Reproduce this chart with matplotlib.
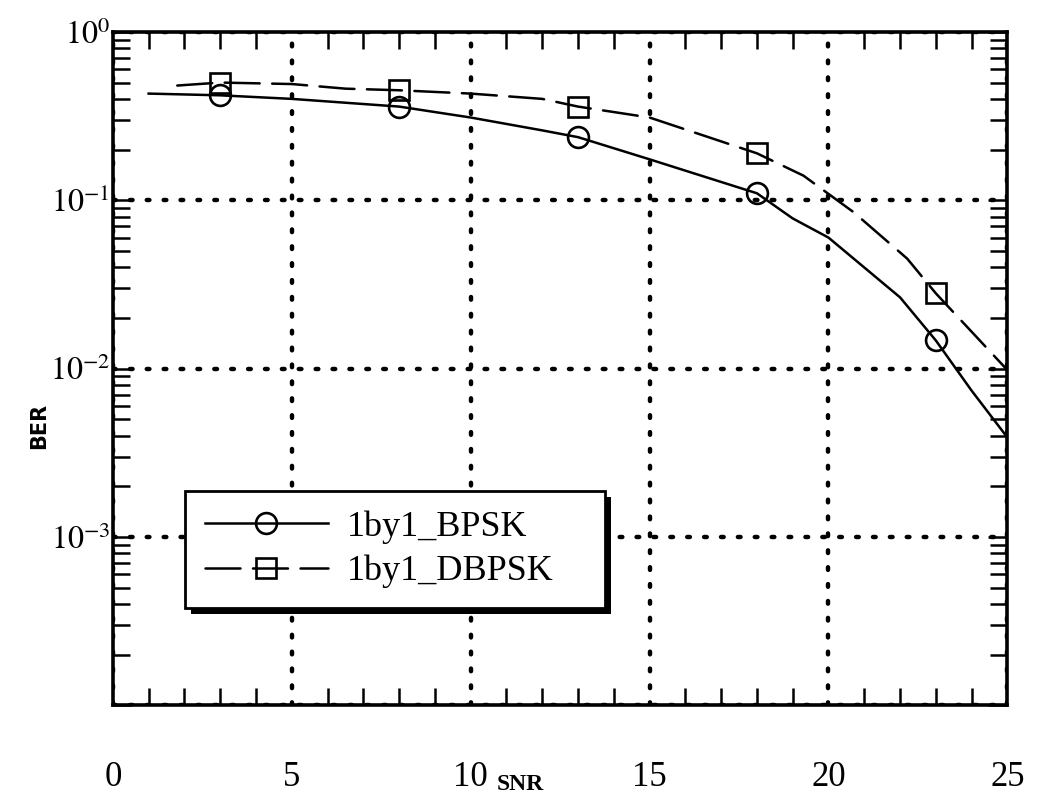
import matplotlib
matplotlib.use("Agg")
import matplotlib.pyplot as plt
from matplotlib.patches import Rectangle
from matplotlib.ticker import FixedLocator, LogLocator, NullFormatter

plt.rcParams['font.family'] = ['Liberation Serif', 'DejaVu Serif']
plt.rcParams['mathtext.fontset'] = 'stix'
plt.rcParams['lines.dash_capstyle'] = 'round'

# data
bpsk_x = [1, 3, 5, 8, 10, 12, 13, 15, 18, 19, 20, 22, 23, 24, 25]
bpsk_y = [0.43, 0.42, 0.40, 0.36, 0.31, 0.26, 0.237, 0.175, 0.11, 0.078, 0.060, 0.0265, 0.0147, 0.0074, 0.0039]
bpsk_marks = [1, 3, 6, 8, 12]

dbpsk_x = [1.8, 3, 5, 6.5, 8, 10, 12, 13, 15, 18, 19.3, 20.7, 22.2, 23, 25]
dbpsk_y = [0.48, 0.50, 0.49, 0.46, 0.45, 0.43, 0.40, 0.36, 0.31, 0.19, 0.14, 0.085, 0.045, 0.028, 0.0098]
dbpsk_marks = [1, 4, 7, 9, 13]

x_ticks = [0, 5, 10, 15, 20, 25]
y_ticks = [1e-4, 1e-3, 1e-2, 1e-1, 1e0]
y_labels = ['', r'$10^{-3}$', r'$10^{-2}$', r'$10^{-1}$', r'$10^{0}$']
labels = ['1by1_BPSK', '1by1_DBPSK']

fig = plt.figure(figsize=(10.45, 7.97), dpi=100)
ax = fig.add_axes([0.108, 0.115, 0.856, 0.845])

l1, = ax.plot(bpsk_x, bpsk_y, '-', color='black', lw=1.8, marker='o', markersize=15,
              markerfacecolor='none', markeredgewidth=1.9, markevery=bpsk_marks, label=labels[0])
l2, = ax.plot(dbpsk_x, dbpsk_y, color='black', lw=1.8, linestyle=(0, (14, 5)), marker='s',
              markersize=15, markerfacecolor='none', markeredgewidth=1.9, markevery=dbpsk_marks,
              label=labels[1])

ax.set_yscale('log')
ax.set_xlim(0, 25)
ax.set_ylim(1e-4, 1)
ax.xaxis.set_major_locator(FixedLocator(x_ticks))
ax.xaxis.set_minor_locator(FixedLocator(list(range(0, 26))))
ax.yaxis.set_major_locator(FixedLocator(y_ticks))
ax.set_yticklabels(y_labels)
ax.yaxis.set_minor_locator(LogLocator(base=10, subs=range(2, 10)))
ax.yaxis.set_minor_formatter(NullFormatter())

ax.grid(True, which='major', color='black', linestyle=(0, (0.6, 3.2)), lw=3.2)

for s in ax.spines.values():
    s.set_linewidth(2.6)

ax.tick_params(axis='x', which='both', direction='in', top=True, bottom=True,
               length=12, width=1.8, pad=40, labelsize=25)
ax.tick_params(axis='x', which='major', length=0)
ax.tick_params(axis='y', which='both', direction='in', left=True, right=True,
               length=12, width=1.8, pad=2, labelsize=23)
ax.tick_params(axis='y', which='major', length=14)

fig.text(0.037, 0.465, 'BER', rotation=90, fontsize=15, fontweight='bold',
         family='DejaVu Sans', ha='center', va='center')
fig.text(0.498, 0.003, 'SNR', fontsize=17, fontweight='bold', ha='center', va='bottom')

leg = ax.legend(handles=[l1, l2], loc='upper left', bbox_to_anchor=(0.0805, 0.0, 0.47, 0.319),
                mode='expand', borderaxespad=0, fontsize=26, handlelength=3.4, frameon=True,
                fancybox=False, borderpad=0.55, labelspacing=0.3, handletextpad=0.55)
fr = leg.get_frame()
fr.set_edgecolor('black')
fr.set_linewidth(2.0)
fr.set_facecolor('white')
fr.set_alpha(1)
leg.set_zorder(5)

fig.canvas.draw()
bb = leg.get_window_extent()
inv = fig.transFigure.inverted()
(x0, y0) = inv.transform((bb.x0 + 6, bb.y0 - 6))
(x1, y1) = inv.transform((bb.x1 + 6, bb.y1 - 6))
shadow = Rectangle((x0, y0), x1 - x0, y1 - y0, transform=fig.transFigure,
                   facecolor='black', edgecolor='none', zorder=4)
ax.add_artist(shadow)
shadow.set_clip_on(False)

fig.savefig('out.png', dpi=100)
